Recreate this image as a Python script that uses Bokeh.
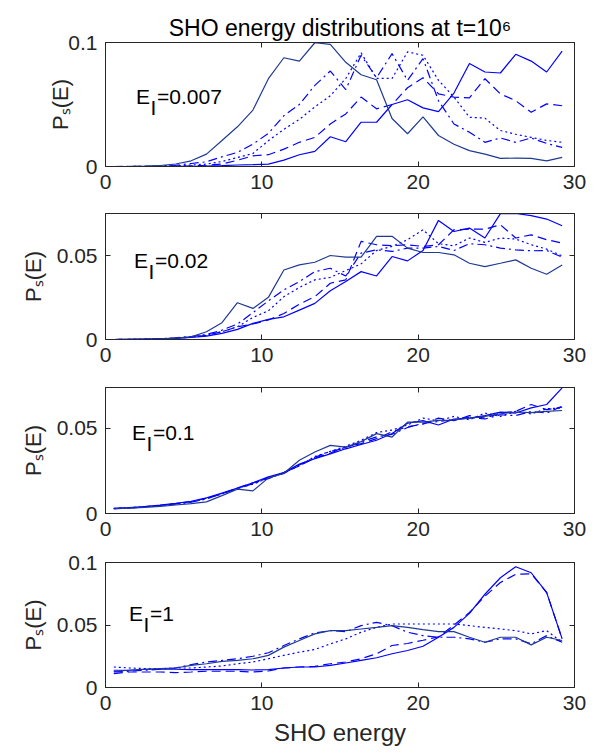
from bokeh.plotting import figure
from bokeh.models import (ColumnDataSource, Label, LinearAxis, FixedTicker,
                          CustomJSTickFormatter, Range1d, Title)
from bokeh.layouts import column
from bokeh.embed import file_html
from bokeh.resources import INLINE

# ---------------- data ----------------
energy = [0.53, 1.52, 2.51, 3.50, 4.49, 5.48, 6.46, 7.45, 8.44, 9.43,
          10.42, 11.41, 12.40, 13.39, 14.38, 15.37, 16.35, 17.34, 18.33, 19.32,
          20.31, 21.30, 22.29, 23.28, 24.27, 25.26, 26.24, 27.23, 28.22, 29.21]

panel_labels = ["0.007", "0.02", "0.1", "1"]
x_ticks = [0, 10, 20, 30]
y_ticks = [[0, 0.1], [0, 0.05], [0, 0.05], [0, 0.05, 0.1]]
y_max = [0.1, 0.075, 0.074, 0.1]
title_text = "SHO energy distributions at t=10\u2076"
x_label = "SHO energy"
y_label = "P\u209b(E)"

# E_I = 0.007
p1_solid_dark = [0.0, 0.0001, 0.0003, 0.0008, 0.002, 0.0046, 0.010, 0.021, 0.032, 0.0455,
                 0.0708, 0.0877, 0.085, 0.0998, 0.0985, 0.084, 0.074, 0.070, 0.0387, 0.0264,
                 0.040, 0.025, 0.018, 0.0128, 0.010, 0.0065, 0.0068, 0.0065, 0.0046, 0.0074]
p1_solid = [0.0, 0.0, 0.0, 0.0, 0.0001, 0.0002, 0.0004, 0.0007, 0.0012, 0.0015,
            0.0019, 0.0051, 0.0095, 0.0122, 0.024, 0.020, 0.0357, 0.0357, 0.050, 0.0538,
            0.0473, 0.0443, 0.0592, 0.083, 0.0762, 0.0754, 0.0905, 0.085, 0.0762, 0.093]
p1_dashed = [0.0, 0.0, 0.0, 0.0001, 0.0002, 0.0005, 0.001, 0.002, 0.005, 0.0086,
             0.0095, 0.014, 0.0195, 0.0235, 0.0343, 0.0424, 0.056, 0.0465, 0.050, 0.0635,
             0.0716, 0.0586, 0.056, 0.0554, 0.0708, 0.0586, 0.053, 0.0438, 0.0505, 0.049]
p1_dashdot = [0.0, 0.0001, 0.0002, 0.0005, 0.001, 0.0024, 0.0038, 0.0078, 0.0114, 0.018,
              0.0268, 0.041, 0.050, 0.0654, 0.077, 0.062, 0.0897, 0.0716, 0.091, 0.0695,
              0.087, 0.053, 0.0343, 0.0276, 0.0195, 0.023, 0.0195, 0.023, 0.0186, 0.0154]
p1_dotted = [0.0, 0.0, 0.0001, 0.0003, 0.0006, 0.0012, 0.0019, 0.004, 0.0073, 0.0105,
             0.0208, 0.030, 0.038, 0.048, 0.057, 0.071, 0.0916, 0.071, 0.071, 0.0924,
             0.0897, 0.0695, 0.056, 0.0397, 0.039, 0.029, 0.026, 0.0235, 0.021, 0.0195]

# E_I = 0.02
p2_solid_dark = [0.0, 0.0001, 0.0002, 0.0004, 0.0008, 0.0016, 0.0046, 0.010, 0.0219, 0.0185,
                 0.0251, 0.0414, 0.0444, 0.046, 0.050, 0.049, 0.049, 0.0614, 0.0614, 0.0544,
                 0.0518, 0.0518, 0.0504, 0.0454, 0.0434, 0.0454, 0.0474, 0.0424, 0.0388, 0.0444]
p2_solid = [0.0, 0.0001, 0.0002, 0.0004, 0.0007, 0.0012, 0.002, 0.0036, 0.006, 0.0096,
            0.012, 0.0135, 0.0175, 0.0215, 0.029, 0.0345, 0.0404, 0.0378, 0.0494, 0.0468,
            0.053, 0.0709, 0.0643, 0.0663, 0.0604, 0.0749, 0.0750, 0.0737, 0.0717, 0.0677]
p2_dashed = [0.0, 0.0001, 0.0002, 0.0004, 0.0008, 0.0014, 0.0025, 0.0046, 0.0076, 0.0092,
             0.0116, 0.0155, 0.021, 0.0255, 0.0335, 0.0355, 0.0584, 0.0564, 0.0558, 0.0564,
             0.0554, 0.0564, 0.0653, 0.0657, 0.0657, 0.0683, 0.0604, 0.0623, 0.0594, 0.0574]
p2_dashdot = [0.0, 0.0001, 0.0002, 0.0005, 0.001, 0.0018, 0.003, 0.0056, 0.0092, 0.016,
              0.023, 0.0295, 0.0345, 0.0404, 0.0424, 0.0378, 0.0514, 0.0534, 0.0524, 0.0544,
              0.0544, 0.0554, 0.053, 0.057, 0.0564, 0.0544, 0.0534, 0.0528, 0.053, 0.049]
p2_dotted = [0.0, 0.0001, 0.0002, 0.0004, 0.0008, 0.0015, 0.0026, 0.0046, 0.0076, 0.0131,
             0.0171, 0.0255, 0.031, 0.0355, 0.037, 0.041, 0.045, 0.053, 0.0554, 0.0594,
             0.0653, 0.057, 0.0558, 0.0604, 0.0578, 0.0604, 0.0598, 0.0564, 0.0538, 0.0498]

# E_I = 0.1
p3_solid_dark = [0.0028, 0.0031, 0.0036, 0.0042, 0.0050, 0.0058, 0.0068, 0.0105, 0.0143, 0.0133,
                 0.0209, 0.0236, 0.0313, 0.0361, 0.0400, 0.0390, 0.0422, 0.0469, 0.0449, 0.0537,
                 0.0537, 0.0547, 0.0549, 0.0560, 0.0570, 0.0586, 0.0596, 0.0592, 0.0600, 0.0605]
p3_solid = [0.0030, 0.0034, 0.0040, 0.0049, 0.0060, 0.0072, 0.0092, 0.0120, 0.0150, 0.0180,
            0.0215, 0.0240, 0.0290, 0.0322, 0.0350, 0.0380, 0.0405, 0.0430, 0.0470, 0.0530,
            0.0545, 0.0520, 0.0555, 0.0560, 0.0575, 0.0595, 0.0590, 0.0620, 0.0640, 0.0738]
p3_dashed = [0.0029, 0.0033, 0.0040, 0.0048, 0.0058, 0.0070, 0.0090, 0.0115, 0.0150, 0.0180,
             0.0205, 0.0240, 0.0280, 0.0325, 0.0355, 0.0390, 0.0410, 0.0440, 0.0480, 0.0510,
             0.0525, 0.0560, 0.0545, 0.0575, 0.0560, 0.0590, 0.0600, 0.0640, 0.0610, 0.0625]
p3_dashdot = [0.0028, 0.0032, 0.0038, 0.0046, 0.0056, 0.0066, 0.0086, 0.0118, 0.0145, 0.0175,
              0.0210, 0.0235, 0.0285, 0.0330, 0.0365, 0.0385, 0.0420, 0.0450, 0.0465, 0.0505,
              0.0530, 0.0540, 0.0550, 0.0565, 0.0555, 0.0580, 0.0575, 0.0600, 0.0590, 0.0630]
p3_dotted = [0.0030, 0.0034, 0.0039, 0.0047, 0.0057, 0.0068, 0.0088, 0.0116, 0.0148, 0.0172,
             0.0208, 0.0240, 0.0280, 0.0335, 0.0365, 0.0395, 0.0430, 0.0475, 0.0490, 0.0520,
             0.0560, 0.0545, 0.0570, 0.0550, 0.0590, 0.0570, 0.0600, 0.0585, 0.0615, 0.0620]

# E_I = 1
p4_solid_dark = [0.0138, 0.0138, 0.0146, 0.0151, 0.0156, 0.0177, 0.019, 0.0209, 0.0217, 0.023,
                 0.0257, 0.0323, 0.0376, 0.0429, 0.0455, 0.0455, 0.0468, 0.0481, 0.0495, 0.0481,
                 0.0463, 0.0447, 0.0447, 0.0402, 0.0362, 0.0402, 0.0402, 0.0341, 0.0402, 0.0376]
p4_solid = [0.013, 0.0138, 0.0146, 0.0146, 0.0146, 0.0143, 0.0143, 0.0143, 0.0143, 0.014,
            0.0143, 0.0156, 0.0164, 0.0164, 0.0177, 0.0196, 0.0217, 0.0238, 0.027, 0.0296,
            0.033, 0.0402, 0.0481, 0.0593, 0.0746, 0.0878, 0.0966, 0.0918, 0.0759, 0.0389]
p4_dashed = [0.0111, 0.0124, 0.0124, 0.0124, 0.0119, 0.0124, 0.013, 0.013, 0.013, 0.0124,
             0.0132, 0.0156, 0.0164, 0.0169, 0.019, 0.0204, 0.023, 0.027, 0.0336, 0.0352,
             0.0378, 0.0405, 0.050, 0.060, 0.073, 0.084, 0.0905, 0.091, 0.076, 0.0389]
p4_dashdot = [0.0124, 0.013, 0.0138, 0.0146, 0.0156, 0.0183, 0.0204, 0.0217, 0.023, 0.025,
              0.0278, 0.0336, 0.0389, 0.0437, 0.0455, 0.0447, 0.0495, 0.0521, 0.0495, 0.0442,
              0.0415, 0.0402, 0.0402, 0.0389, 0.0362, 0.0389, 0.0389, 0.0349, 0.0415, 0.0362]
p4_dotted = [0.0164, 0.0156, 0.0151, 0.0151, 0.0156, 0.0156, 0.0164, 0.0172, 0.019, 0.0204,
             0.023, 0.0257, 0.0283, 0.0304, 0.0349, 0.0389, 0.0442, 0.0481, 0.0508, 0.0508,
             0.0508, 0.0508, 0.0508, 0.0495, 0.0481, 0.0468, 0.0455, 0.0429, 0.0455, 0.0362]

panels = [
    dict(solid=p1_solid, dashed=p1_dashed, dashdot=p1_dashdot, dotted=p1_dotted, solid_dark=p1_solid_dark),
    dict(solid=p2_solid, dashed=p2_dashed, dashdot=p2_dashdot, dotted=p2_dotted, solid_dark=p2_solid_dark),
    dict(solid=p3_solid, dashed=p3_dashed, dashdot=p3_dashdot, dotted=p3_dotted, solid_dark=p3_solid_dark),
    dict(solid=p4_solid, dashed=p4_dashed, dashdot=p4_dashdot, dotted=p4_dotted, solid_dark=p4_solid_dark),
]

# ---------------- styles / layout ----------------
BLUE = "#0000ff"
DARK = "#1f3a93"
AXC = "#262626"
FONT = "Liberation Sans"
styles = {
    "solid": dict(color=BLUE, dash="solid"),
    "dashed": dict(color=BLUE, dash="9 5"),
    "dashdot": dict(color=BLUE, dash="9 4 2 4"),
    "dotted": dict(color=BLUE, dash="2 3"),
    "solid_dark": dict(color=DARK, dash="solid"),
}

W = 595
FL, FR = 105, 21
FW = W - FL - FR
FIG_TOP = [0, 206, 380, 549]
FIG_H = [206, 174, 169, 205]
FRAME_TOP = [42, 213, 387, 562]
FRAME_H = [124, 126, 126, 125]

fmt = CustomJSTickFormatter(code="return String(Math.round(tick*10000)/10000);")
blank = CustomJSTickFormatter(code="return '';")


def dx(sx):
    return (sx - FL) / FW * 30.0


def dy(i, sy):
    return (FRAME_TOP[i] + FRAME_H[i] - sy) / FRAME_H[i] * y_max[i]


figs = []
for i, pdata in enumerate(panels):
    top_b = FRAME_TOP[i] - FIG_TOP[i]
    bot_b = FIG_TOP[i] + FIG_H[i] - FRAME_TOP[i] - FRAME_H[i]
    p = figure(width=W, height=FIG_H[i], output_backend="svg", toolbar_location=None,
               title=None, x_range=Range1d(0, 30), y_range=Range1d(0, y_max[i]),
               min_border_left=FL, min_border_right=FR, min_border_top=top_b,
               min_border_bottom=bot_b, background_fill_color="white",
               border_fill_color="white")
    p.xgrid.visible = False
    p.ygrid.visible = False
    p.outline_line_color = AXC
    p.outline_line_width = 1

    src = ColumnDataSource(dict(x=energy, **pdata))
    for key in ["dotted", "dashdot", "dashed", "solid", "solid_dark"]:
        st = styles[key]
        p.line("x", key, source=src, line_color=st["color"], line_dash=st["dash"],
               line_width=1.2)

    xa = p.below[0]
    ya = p.left[0]
    for ax in (xa, ya):
        ax.axis_line_color = AXC
        ax.major_tick_line_color = AXC
        ax.major_tick_in = 5
        ax.major_tick_out = 0
        ax.minor_tick_line_color = None
        ax.major_label_text_font = FONT
        ax.major_label_text_font_size = "21px"
        ax.major_label_text_color = AXC
        ax.major_label_standoff = 8
        ax.formatter = fmt
    xa.ticker = FixedTicker(ticks=x_ticks)
    ya.ticker = FixedTicker(ticks=y_ticks[i])

    ya.axis_label = y_label
    ya.axis_label_text_font = FONT
    ya.axis_label_text_font_size = "22px"
    ya.axis_label_text_font_style = "normal"
    ya.axis_label_text_color = AXC
    ya.axis_label_standoff = -8 if i == 0 else 8

    if i == 3:
        xa.axis_label = x_label
        xa.axis_label_text_font = FONT
        xa.axis_label_text_font_size = "24px"
        xa.axis_label_text_font_style = "normal"
        xa.axis_label_text_color = AXC
        xa.axis_label_standoff = 6

    # mirror axes (box ticks)
    for loc, tks in (("above", x_ticks), ("right", y_ticks[i])):
        mir = LinearAxis(ticker=FixedTicker(ticks=tks), major_tick_in=5, major_tick_out=0,
                         major_label_text_font_size="1px", major_label_text_color=None,
                         major_label_standoff=0, axis_line_color=AXC,
                         major_tick_line_color=AXC, minor_tick_line_color=None,
                         formatter=blank)
        p.add_layout(mir, loc)

    # panel annotation E_I=...
    ex = [135.5, 133.5, 131.5, 128.5][i]
    eb = [96, 260, 432, 613][i]
    for txt, ox, oy in [("E", 0, 0), ("I", 14.5, 11), ("=" + panel_labels[i], 21, 0)]:
        p.add_layout(Label(x=dx(ex + ox), y=dy(i, eb + oy), text=txt, text_font=FONT,
                           text_font_size="21px", text_color="black",
                           text_align="left", text_baseline="alphabetic"))

    if i == 0:
        p.add_layout(Title(text=title_text, align="center", text_font=FONT,
                           text_font_size="23px", text_font_style="normal",
                           text_color="black", standoff=4), "above")
    figs.append(p)

layout = column(*figs, spacing=0)
open("out.html", "w").write(file_html(layout, INLINE))
